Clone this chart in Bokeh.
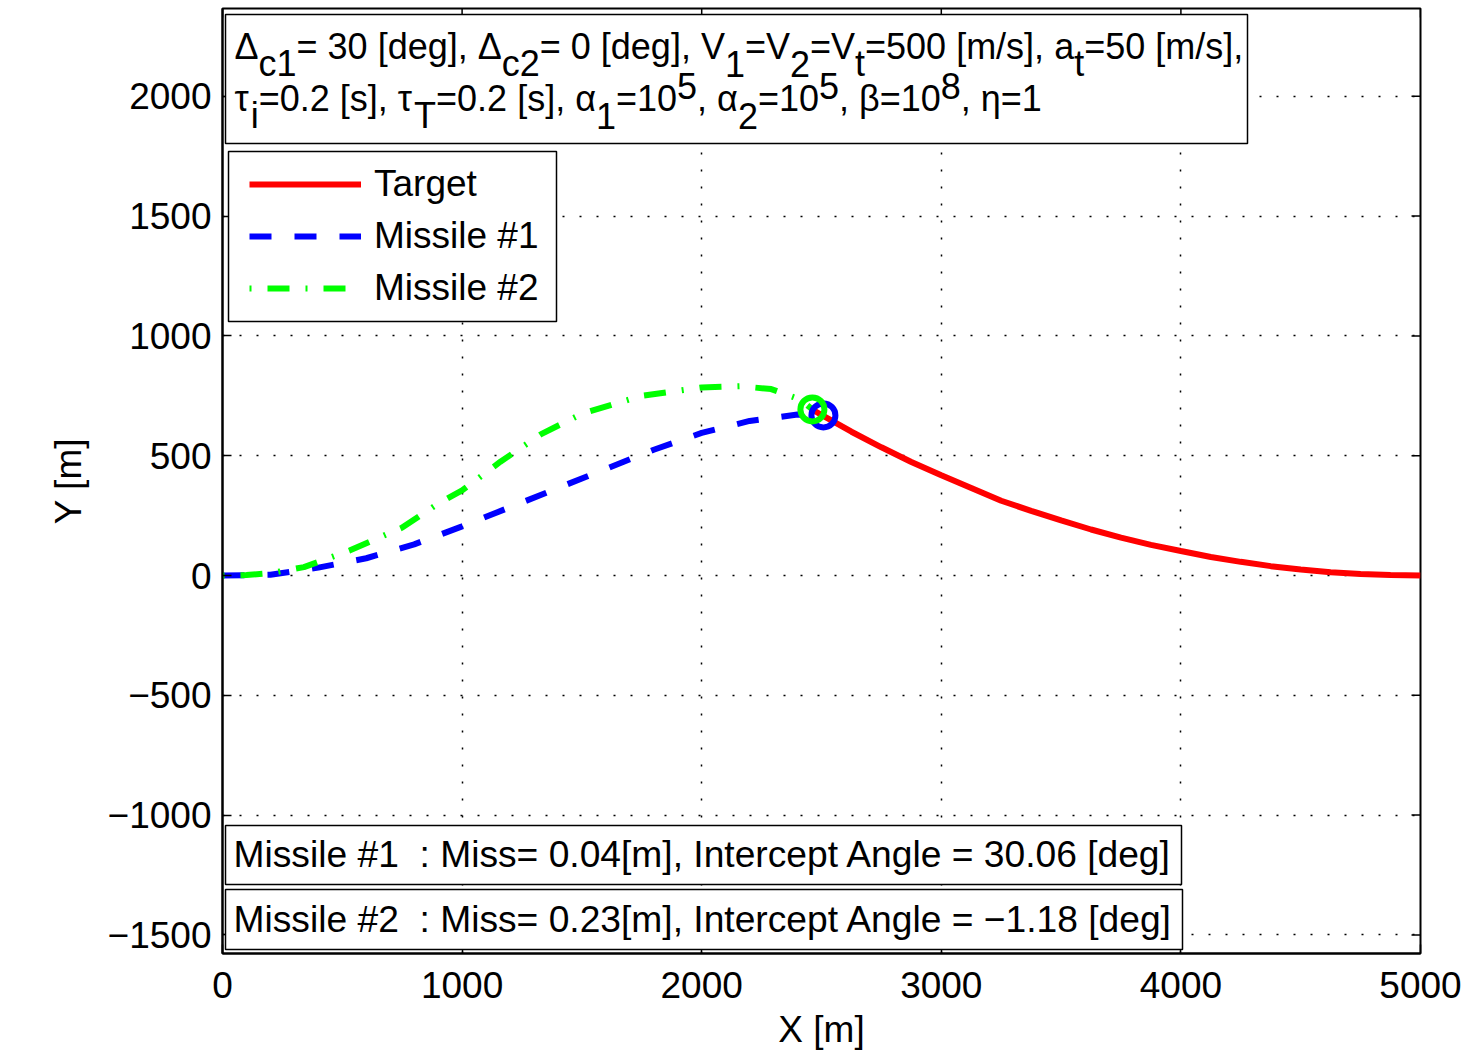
from bokeh.plotting import figure
from bokeh.models import (Range1d, FixedTicker, Label, BoxAnnotation,
                          Legend, LegendItem)
from bokeh.embed import file_html
from bokeh.resources import INLINE

# ---------------- data ----------------
target_x = [5000, 4875, 4750, 4625, 4500, 4375, 4250, 4125, 4000, 3875, 3750, 3625, 3500,
            3375, 3250, 3125, 3000, 2875, 2750, 2625, 2500, 2462]
target_y = [0, 2, 6, 14, 25, 39, 57, 77, 102, 128, 158, 192, 230,
            270, 312, 365, 418, 474, 535, 600, 670, 693]

m1_x = [0, 200, 400, 600, 800, 1000, 1200, 1400, 1600, 1800, 2000, 2200, 2400, 2508]
m1_y = [0, 3, 33, 72, 130, 205, 285, 365, 445, 525, 595, 645, 672, 668]

m2_x = [0, 100, 200, 340, 530, 750, 900, 1000, 1160, 1330, 1500, 1750, 2000, 2160, 2290, 2410, 2462]
m2_y = [0, 2, 10, 35, 104, 200, 300, 355, 475, 590, 675, 750, 785, 790, 778, 735, 693]

x_ticks = [0, 1000, 2000, 3000, 4000, 5000]
y_ticks = [-1500, -1000, -500, 0, 500, 1000, 1500, 2000]
y_tick_labels = ["\u22121500", "\u22121000", "\u2212500", "0", "500", "1000", "1500", "2000"]

series_names = ["Target", "Missile #1", "Missile #2"]

info_line1 = [("\u0394", "n"), ("c1", "b"), ("= 30 [deg], \u0394", "n"), ("c2", "b"),
              ("= 0 [deg], V", "n"), ("1", "b"), ("=V", "n"), ("2", "b"), ("=V", "n"),
              ("t", "b"), ("=500 [m/s], a", "n"), ("t", "b"), ("=50 [m/s],", "n")]
info_line2 = [("\u03c4", "n"), ("i", "b"), ("=0.2 [s], \u03c4", "n"), ("T", "b"),
              ("=0.2 [s], \u03b1", "n"), ("1", "b"), ("=10", "n"), ("5", "p"),
              (", \u03b1", "n"), ("2", "b"), ("=10", "n"), ("5", "p"),
              (", \u03b2=10", "n"), ("8", "p"), (", \u03b7=1", "n")]
result_1 = "Missile #1\u00a0\u00a0: Miss= 0.04[m], Intercept Angle = 30.06 [deg]"
result_2 = "Missile #2\u00a0\u00a0: Miss= 0.23[m], Intercept Angle = \u22121.18 [deg]"

# ---------------- layout helpers ----------------
FONT = "Liberation Sans"
S = 1198 / 5000.0          # px per data unit (equal aspect)


def X(px):
    return (px - 222) / S


def Y(py):
    return (575 - py) / S


# Arial / Liberation Sans advance widths (per em)
W = {' ': .278, '#': .556, ',': .278, '.': .278, '/': .278, ':': .278, '=': .584,
     '[': .278, ']': .278, 'A': .667, 'I': .278, 'M': .833, 'T': .611, 'V': .667,
     'a': .556, 'c': .5, 'd': .556, 'e': .556, 'g': .556, 'i': .222, 'l': .222,
     'm': .833, 'n': .556, 'p': .556, 'r': .333, 's': .5, 't': .278,
     '\u0394': .668, '\u03c4': .451, '\u03b1': .578, '\u03b2': .575, '\u03b7': .556}


def tw(s, size):
    return sum(W.get(ch, .556) for ch in s) * size


X0, X1 = 0, 5000
Y0, Y1 = Y(953), Y(8)

p = figure(frame_width=1198, frame_height=945,
           x_range=Range1d(X0, X1), y_range=Range1d(Y0, Y1),
           output_backend="svg", toolbar_location=None,
           min_border_left=222, min_border_right=44, min_border_top=8, min_border_bottom=95,
           background_fill_color="white", border_fill_color="white")

p.outline_line_color = "black"
p.outline_line_width = 2
p.outline_line_alpha = 1

for ax in (p.xaxis[0], p.yaxis[0]):
    ax.major_tick_in = 9
    ax.major_tick_out = 0
    ax.minor_tick_line_color = None
    ax.major_tick_line_color = "black"
    ax.major_tick_line_width = 1.5
    ax.axis_line_color = "black"
    ax.axis_line_width = 2
    ax.major_label_text_font = FONT
    ax.major_label_text_font_size = "37px"
    ax.major_label_text_color = "black"
    ax.axis_label_text_font = FONT
    ax.axis_label_text_font_size = "37px"
    ax.axis_label_text_font_style = "normal"
    ax.axis_label_text_color = "black"

p.xaxis.ticker = FixedTicker(ticks=x_ticks)
p.yaxis.ticker = FixedTicker(ticks=y_ticks)
p.yaxis.major_label_overrides = {t: l for t, l in zip(y_ticks, y_tick_labels)}
p.xaxis.major_label_standoff = 18
p.yaxis.major_label_standoff = 11
p.xaxis.axis_label = "X [m]"
p.yaxis.axis_label = "Y [m]"
p.xaxis.axis_label_standoff = 8
p.yaxis.axis_label_standoff = 16

p.xgrid.ticker = FixedTicker(ticks=x_ticks)
p.ygrid.ticker = FixedTicker(ticks=y_ticks)
for g in (p.xgrid[0], p.ygrid[0]):
    g.grid_line_color = "black"
    g.grid_line_width = 1.5
    g.grid_line_dash = "2 15"
    g.grid_line_alpha = 1

# inward ticks on the top and right edges (box on), derived from the tick lists
TL = 9 / S
p.segment(x0=x_ticks, y0=[Y1] * len(x_ticks), x1=x_ticks, y1=[Y1 - TL] * len(x_ticks),
          line_color="black", line_width=1.5)
p.segment(x0=[X1] * len(y_ticks), y0=y_ticks, x1=[X1 - TL] * len(y_ticks), y1=y_ticks,
          line_color="black", line_width=1.5)

# ---------------- curves ----------------
r_t = p.line(target_x, target_y, line_color="#ff0000", line_width=6)
r_1 = p.line(m1_x, m1_y, line_color="#0000ff", line_width=6, line_dash="22 23")
r_2 = p.line(m2_x, m2_y, line_color="#00ff00", line_width=6, line_dash="2 16 22 16")
p.scatter([m1_x[-1]], [m1_y[-1]], marker="circle", size=24, fill_color=None,
          line_color="#0000ff", line_width=6)
p.scatter([m2_x[-1]], [m2_y[-1]], marker="circle", size=24, fill_color=None,
          line_color="#00ff00", line_width=6)

# ---------------- boxes ----------------
def box(l, r, t, b):
    return BoxAnnotation(left=X(l), right=X(r), top=Y(t), bottom=Y(b),
                         fill_color="white", fill_alpha=1, line_color="black",
                         line_width=1.5, line_alpha=1)


p.add_layout(box(225, 1247, 14, 143))
p.add_layout(box(228, 556, 151, 321))
p.add_layout(box(225, 1181, 825, 884))
p.add_layout(box(225, 1182, 889, 949))

# legend (box drawn above, legend itself transparent)
legend = Legend(items=[LegendItem(label=series_names[0], renderers=[r_t]),
                       LegendItem(label=series_names[1], renderers=[r_1]),
                       LegendItem(label=series_names[2], renderers=[r_2])],
                location=(27, 643), padding=11, spacing=8, margin=0,
                glyph_width=112, glyph_height=44, label_height=44, label_standoff=13,
                border_line_color=None, background_fill_alpha=0,
                label_text_font=FONT, label_text_font_size="37px", label_text_color="black")
p.add_layout(legend)

# ---------------- parameter text with sub/superscripts ----------------
FS = 36
DY = {"n": 0, "b": 17, "p": -13}


def put_line(segs, x0, base):
    cx = x0
    for txt, kind in segs:
        p.add_layout(Label(x=X(cx), y=Y(base + DY[kind]), text=txt, text_font=FONT,
                           text_font_size=f"{FS}px", text_baseline="alphabetic",
                           text_align="left", text_color="black"))
        cx += tw(txt, FS)


put_line(info_line1, 234, 46)
put_line(info_line2, 234, 98)

for txt, base in ((result_1, 853), (result_2, 918)):
    p.add_layout(Label(x=X(233), y=Y(base), text=txt, text_font=FONT,
                       text_font_size="37.2px", text_baseline="alphabetic",
                       text_align="left", text_color="black"))

html = file_html(p, INLINE, title="Missile engagement")
html = html.replace("</head>", "<style>html, body { overflow: hidden; }</style></head>", 1)
open("out.html", "w").write(html)
